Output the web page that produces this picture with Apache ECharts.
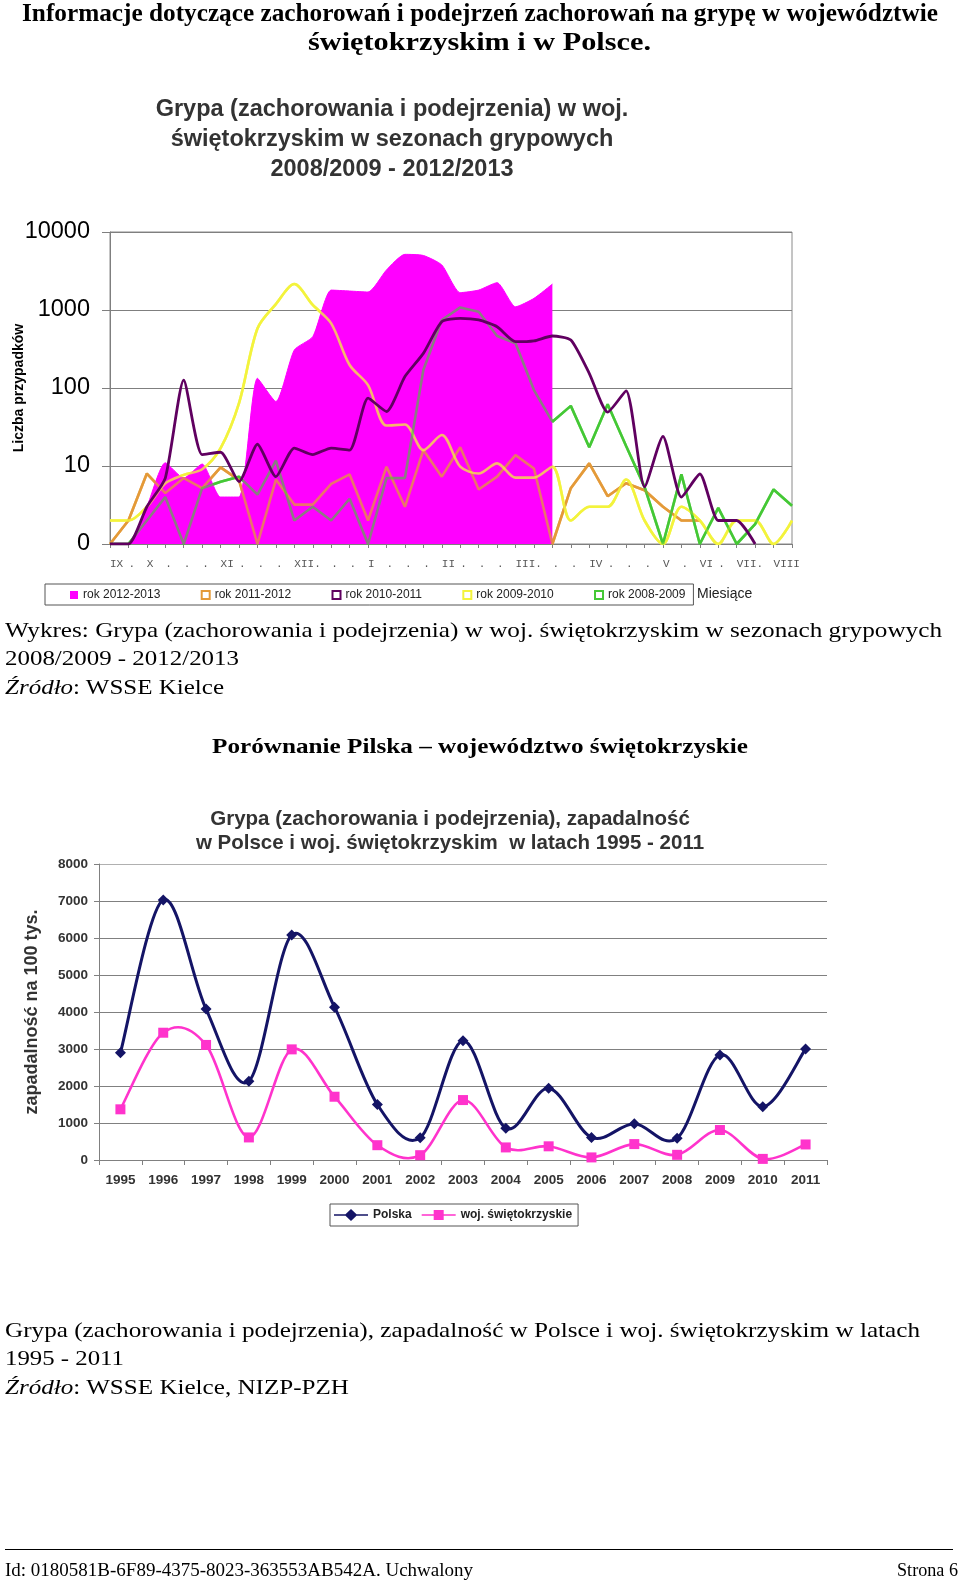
<!DOCTYPE html>
<html>
<head>
<meta charset="utf-8">
<script src="https://cdn.jsdelivr.net/npm/echarts/dist/echarts.min.js"></script>
<style>
html,body{margin:0;padding:0;background:#fff;}
#chart{position:absolute;left:0;top:0;width:960px;height:1585px;}
.t{position:absolute;white-space:nowrap;font-family:'Liberation Serif','Times New Roman',serif;color:#000;transform-origin:0 50%;line-height:1;}
#rule{position:absolute;left:5px;top:1549px;width:948px;height:0;border-top:1px solid #000;}
</style>
</head>
<body>
<div id="chart"></div>
<div id="doc"></div>
<div id="rule"></div>
<script>
// ---------- Chart 1 data (weekly counts, log scale; 0 drawn on the axis floor) ----------
const weekLabels = ['IX','.','X','.','.','.','XI','.','.','.','XII.','','.','.','I','.','.','.','II','.','.','.','III.','','.','.','IV','.','.','.','V','.','VI','.','VII.','','VIII',''];
const season1213 = [0,0,3,11,7,10.6,4,4,133,67,307,455,1800,1750,1700,3260,5170,5000,3780,1670,1800,2240,1100,1410,2150,null,null,null,null,null,null,null,null,null,null,null,null,null];
const season1112 = [0,2,8,4.5,7,5.2,9.6,6.6,0,6.7,3.2,3.2,5.9,7.8,2,9.8,3,16,7.3,17.4,5,7.3,13.8,9.3,0,5.2,10.8,4.1,6,4.9,3,2,2,null,null,null,null,null];
const season1011 = [0,0,3,7,126,14,15,6.3,19,7.3,17,14,17,16,74,50,140,278,708,782,745,611,392,402,464,412,154,49,92,5.4,24,4,7.9,2,2,0,null,null];
const season0910 = [2,2,3,6,7.7,9.1,17,64,580,1190,2150,1160,675,197,109,33,34,16,25,9.8,8,10.8,7.1,7.1,9.8,2,3,3,6.7,2,0,3,2,0,2,2,0,2];
const season0809 = [0,0,2,4,0,5.2,6.3,7.3,4.3,11.7,2,3,2,3.8,0,7,7,170,745,1080,950,464,374,94,37,59,17.4,62,18,5.4,0,7.8,0,2.9,0,1.8,5,3.1];
const seasonNames = ['rok 2012-2013','rok 2011-2012','rok 2010-2011','rok 2009-2010','rok 2008-2009'];

// ---------- Chart 2 data (incidence per 100k) ----------
const years = ['1995','1996','1997','1998','1999','2000','2001','2002','2003','2004','2005','2006','2007','2008','2009','2010','2011'];
const polska = [2900,7030,4080,2130,6080,4130,1500,600,3220,860,1940,610,980,590,2840,1440,3000];
const swietokrzyskie = [1370,3440,3110,610,2990,1710,400,130,1620,340,370,70,430,140,810,30,420];
const seriesNames2 = ['Polska','woj. świętokrzyskie'];

const C = {mag:'#ff00ff', orange:'#e49a38', purple:'#600060', yellow:'#f3f33c', green:'#44c835', navy:'#141466', pink:'#ff33cc'};
const toLog = arr => arr.map(v => v == null ? null : (v === 0 ? 1 : v));
const hexA = (hex, a) => {
  const n = parseInt(hex.slice(1),16);
  return 'rgba(' + ((n>>16)&255) + ',' + ((n>>8)&255) + ',' + (n&255) + ',' + a + ')';
};
function line1(name, data, color, z, smooth, width) {
  return {name:name, type:'line', xAxisIndex:0, yAxisIndex:0, data:toLog(data), symbol:'none', showSymbol:false,
    smooth:smooth||false, z:z, lineStyle:{color:color, width:width||2.6}, itemStyle:{color:color}, connectNulls:false};
}

// Smoothed curve (Excel-style Catmull-Rom) drawn through points placed by the library's own scales.
function smoothCurve(name, values, color, width) {
  return {
    name:name, type:'custom', xAxisIndex:1, yAxisIndex:1, z:3, silent:true,
    data: values.map((v, i) => [i, v]),
    encode:{x:0, y:1},
    renderItem: function (params, api) {
      if (params.dataIndex !== 0) return null;
      const pts = values.map((v, i) => api.coord([i, v]));
      const n = pts.length;
      let d = 'M' + pts[0][0] + ',' + pts[0][1];
      for (let i = 0; i < n - 1; i++) {
        const p0 = pts[Math.max(0, i - 1)], p1 = pts[i], p2 = pts[i + 1], p3 = pts[Math.min(n - 1, i + 2)];
        const c1x = p1[0] + (p2[0] - p0[0]) / 6, c1y = p1[1] + (p2[1] - p0[1]) / 6;
        const c2x = p2[0] - (p3[0] - p1[0]) / 6, c2y = p2[1] - (p3[1] - p1[1]) / 6;
        d += 'C' + c1x + ',' + c1y + ',' + c2x + ',' + c2y + ',' + p2[0] + ',' + p2[1];
      }
      return {type:'path', shape:{pathData:d}, style:{fill:'none', stroke:color, lineWidth:width, lineJoin:'round'}};
    }
  };
}

const series = [
  line1(seasonNames[1], season1112, C.orange, 2, false),
  line1(seasonNames[3], season0910, C.yellow, 2, 0.3),
  line1(seasonNames[4], season0809, C.green, 2, false),
  {name:seasonNames[0], type:'line', xAxisIndex:0, yAxisIndex:0, data:toLog(season1213), symbol:'none', showSymbol:false,
   smooth:0.2, z:3, lineStyle:{color:C.mag, width:1}, itemStyle:{color:C.mag},
   areaStyle:{color:C.mag, opacity:1, origin:'start'}},
  line1(seasonNames[1], season1112, hexA(C.orange,0.75), 4, false),
  line1(seasonNames[3], season0910, hexA(C.yellow,0.75), 4, 0.3),
  line1(seasonNames[4], season0809, hexA(C.green,0.62), 4, false),
  line1(seasonNames[2], season1011, C.purple, 5, 0.2, 2.8),
  smoothCurve(seriesNames2[0], polska, C.navy, 3),
  smoothCurve(seriesNames2[1], swietokrzyskie, C.pink, 2.6),
  {name:seriesNames2[0], type:'scatter', xAxisIndex:1, yAxisIndex:1, data:polska, symbol:'diamond', symbolSize:11,
   itemStyle:{color:C.navy, opacity:1}, z:4},
  {name:seriesNames2[1], type:'scatter', xAxisIndex:1, yAxisIndex:1, data:swietokrzyskie, symbol:'rect', symbolSize:10,
   itemStyle:{color:C.pink, opacity:1}, z:4}
];

const sans = "'Liberation Sans', Arial, sans-serif";
// measure legend label widths so the legend items sit on a fixed pitch
const mctx = document.createElement('canvas').getContext('2d');
mctx.font = "12px 'Liberation Sans', Arial, sans-serif";
const legendTextW = mctx.measureText(seasonNames[0]).width;
const legendGap = Math.max(4, 130.7 - 8 - 5 - legendTextW);

const iconPolska = 'path://M0,5.2H11.5L17,0L22.5,5.2H34V6.8H22.5L17,12L11.5,6.8H0Z';
const iconSwiet = 'path://M0,5.2H12V1H22V5.2H34V6.8H22V11H12V6.8H0Z';

const option = {
  animation:false,
  backgroundColor:'#fff',
  title:[
    {text:'Grypa (zachorowania i podejrzenia) w woj.\nświętokrzyskim w sezonach grypowych\n2008/2009 - 2012/2013',
     left:392, top:94, textAlign:'center', padding:0,
     textStyle:{fontFamily:sans, fontSize:23.5, fontWeight:'bold', lineHeight:30.3, color:'#333'}},
    {text:'Miesiące', left:697, top:587, padding:0,
     textStyle:{fontFamily:sans, fontSize:14, fontWeight:'normal', color:'#222'}},
    {text:'Grypa (zachorowania i podejrzenia), zapadalność\nw Polsce i woj. świętokrzyskim  w latach 1995 - 2011',
     left:450, top:807, textAlign:'center', padding:0,
     textStyle:{fontFamily:sans, fontSize:20.5, fontWeight:'bold', lineHeight:24.5, color:'#333'}}
  ],
  legend:[
    {left:45, top:584, orient:'horizontal', padding:[5,8,4,25], itemGap:legendGap, itemWidth:8, itemHeight:8,
     borderColor:'#555', borderWidth:1, backgroundColor:'#fff',
     textStyle:{fontFamily:sans, fontSize:12, color:'#222'},
     data:[
       {name:seasonNames[0], icon:'rect', itemStyle:{color:C.mag, borderWidth:0}},
       {name:seasonNames[1], icon:'rect', itemStyle:{color:'#fff', borderColor:C.orange, borderWidth:2}},
       {name:seasonNames[2], icon:'rect', itemStyle:{color:'#fff', borderColor:C.purple, borderWidth:2}},
       {name:seasonNames[3], icon:'rect', itemStyle:{color:'#fff', borderColor:C.yellow, borderWidth:2}},
       {name:seasonNames[4], icon:'rect', itemStyle:{color:'#fff', borderColor:C.green, borderWidth:2}}
     ]},
    {left:330, top:1204, padding:[5,6,5,4], itemGap:10, itemWidth:34, itemHeight:12,
     borderColor:'#555', borderWidth:1, backgroundColor:'#fff',
     textStyle:{fontFamily:sans, fontSize:12, fontWeight:'bold', color:'#222'},
     data:[
       {name:seriesNames2[0], icon:iconPolska, itemStyle:{color:C.navy, borderWidth:0}},
       {name:seriesNames2[1], icon:iconSwiet, itemStyle:{color:C.pink, borderWidth:0}}
     ]}
  ],
  grid:[
    {left:110, top:232, width:682, height:312, show:true, borderColor:'#8a8a8a', borderWidth:1,
     backgroundColor:'transparent', containLabel:false, outerBoundsMode:'none'},
    {left:99, top:864, width:728, height:296, containLabel:false, outerBoundsMode:'none'}
  ],
  xAxis:[
    {type:'category', gridIndex:0, data:weekLabels, boundaryGap:false,
     axisLine:{lineStyle:{color:'#7f7f7f', width:1}},
     axisTick:{show:true, interval:0, length:4, lineStyle:{color:'#7f7f7f'}},
     axisLabel:{interval:0, align:'left', margin:15, fontFamily:"'Liberation Mono','Courier New',monospace", fontSize:11, color:'#555'},
     splitLine:{show:false}},
    {type:'category', gridIndex:1, data:years, boundaryGap:true,
     axisLine:{lineStyle:{color:'#808080', width:1}},
     axisTick:{show:true, interval:0, length:5, lineStyle:{color:'#808080'}},
     axisLabel:{interval:0, margin:13, fontFamily:sans, fontSize:13.5, fontWeight:'bold', color:'#333'},
     splitLine:{show:false}}
  ],
  yAxis:[
    {type:'log', gridIndex:0, logBase:10, min:1, max:10000,
     axisLine:{show:true, lineStyle:{color:'#7f7f7f'}},
     axisTick:{show:true, length:8, lineStyle:{color:'#7f7f7f'}},
     axisLabel:{margin:20, fontFamily:sans, fontSize:23.5, color:'#000', formatter:v => (v === 1 ? '0' : String(v))},
     splitLine:{show:true, lineStyle:{color:'#7f7f7f', width:1}},
     minorTick:{show:false}, minorSplitLine:{show:false},
     name:'Liczba przypadków', nameLocation:'middle', nameGap:84, nameRotate:90, nameMoveOverlap:false,
     nameTextStyle:{fontFamily:sans, fontSize:14, fontWeight:'bold', color:'#000'}},
    {type:'value', gridIndex:1, min:0, max:8000, interval:1000,
     axisLine:{show:true, lineStyle:{color:'#808080'}},
     axisTick:{show:true, length:5, lineStyle:{color:'#808080'}},
     axisLabel:{margin:11, fontFamily:sans, fontSize:13.5, fontWeight:'bold', color:'#333', formatter:v => String(v)},
     splitLine:{show:true, lineStyle:{color:['#808080','#808080','#808080','#808080','#808080','#808080','#808080','#808080','#b0b0b0'], width:1}},
     name:'zapadalność na 100 tys.', nameLocation:'middle', nameGap:58, nameRotate:90, nameMoveOverlap:false,
     nameTextStyle:{fontFamily:sans, fontSize:18, fontWeight:'bold', color:'#333'}}
  ],
  series:series
};

const chart = echarts.init(document.getElementById('chart'), null, {renderer:'canvas'});
chart.setOption(option);

// ---------- Document text ----------
const docLines = [
  {html:'Informacje dotyczące zachorowań i podejrzeń zachorowań na grypę w województwie', x:22, cy:14, w:916, fs:26, bold:true},
  {html:'świętokrzyskim i w Polsce.', x:308, cy:43, w:343, fs:26, bold:true},
  {html:'Wykres: Grypa (zachorowania i podejrzenia) w woj. świętokrzyskim w sezonach grypowych', x:5, cy:632, w:937, fs:21},
  {html:'2008/2009 - 2012/2013', x:5, cy:660, w:234, fs:21},
  {html:'<i>Źródło</i>: WSSE Kielce', x:5, cy:689, w:219, fs:21},
  {html:'Porównanie Pilska – województwo świętokrzyskie', x:212, cy:748, w:536, fs:21, bold:true},
  {html:'Grypa (zachorowania i podejrzenia), zapadalność w Polsce i woj. świętokrzyskim w latach', x:5, cy:1332, w:915, fs:21},
  {html:'1995 - 2011', x:5, cy:1360, w:119, fs:21},
  {html:'<i>Źródło</i>: WSSE Kielce, NIZP-PZH', x:5, cy:1389, w:344, fs:21},
  {html:'Id: 0180581B-6F89-4375-8023-363553AB542A. Uchwalony', x:5, cy:1571, w:468, fs:18},
  {html:'Strona 6', x:897, cy:1571, w:61, fs:18}
];
const doc = document.getElementById('doc');
docLines.forEach(d => {
  const el = document.createElement('div');
  el.className = 't';
  el.style.fontSize = d.fs + 'px';
  if (d.bold) el.style.fontWeight = 'bold';
  el.innerHTML = d.html;
  el.style.left = d.x + 'px';
  el.style.top = (d.cy - d.fs * 0.55) + 'px';
  doc.appendChild(el);
  const w = el.getBoundingClientRect().width;
  if (w > 0) el.style.transform = 'scaleX(' + (d.w / w) + ')';
});
</script>
</body>
</html>
